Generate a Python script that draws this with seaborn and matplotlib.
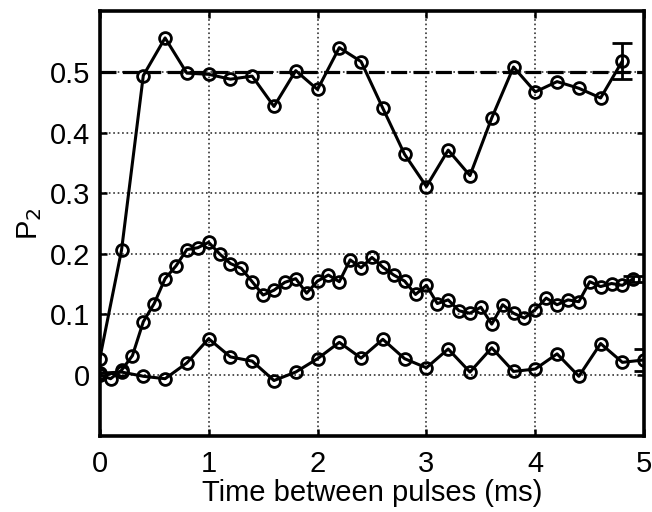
import numpy as np
import pandas as pd
import matplotlib
matplotlib.use("Agg")
import matplotlib.pyplot as plt
import seaborn as sns

# ---------------------------------------------------------
# Data
# ---------------------------------------------------------
t_top = [0.0, 0.2, 0.4, 0.6, 0.8, 1.0, 1.2, 1.4, 1.6, 1.8, 2.0, 2.2, 2.4,
         2.6, 2.8, 3.0, 3.2, 3.4, 3.6, 3.8, 4.0, 4.2, 4.4, 4.6, 4.8]
p_top = [0.027, 0.206, 0.494, 0.556, 0.498, 0.496, 0.488, 0.493, 0.443,
         0.502, 0.471, 0.540, 0.517, 0.440, 0.364, 0.311, 0.371, 0.329,
         0.424, 0.508, 0.467, 0.484, 0.473, 0.457, 0.518]

t_mid = [0.0, 0.1, 0.2, 0.3, 0.4, 0.5, 0.6, 0.7, 0.8, 0.9,
         1.0, 1.1, 1.2, 1.3, 1.4, 1.5, 1.6, 1.7, 1.8, 1.9,
         2.0, 2.1, 2.2, 2.3, 2.4, 2.5, 2.6, 2.7, 2.8, 2.9,
         3.0, 3.1, 3.2, 3.3, 3.4, 3.5, 3.6, 3.7, 3.8, 3.9,
         4.0, 4.1, 4.2, 4.3, 4.4, 4.5, 4.6, 4.7, 4.8, 4.9]
p_mid = [0.000, -0.006, 0.008, 0.032, 0.088, 0.118, 0.159, 0.180, 0.207, 0.210,
         0.219, 0.200, 0.184, 0.176, 0.154, 0.132, 0.140, 0.153, 0.159, 0.135,
         0.155, 0.165, 0.154, 0.190, 0.177, 0.194, 0.178, 0.165, 0.155, 0.133,
         0.148, 0.118, 0.124, 0.106, 0.102, 0.112, 0.084, 0.116, 0.102, 0.094,
         0.108, 0.127, 0.116, 0.124, 0.121, 0.154, 0.146, 0.151, 0.148, 0.159]

t_low = [0.0, 0.2, 0.4, 0.6, 0.8, 1.0, 1.2, 1.4, 1.6, 1.8, 2.0, 2.2, 2.4,
         2.6, 2.8, 3.0, 3.2, 3.4, 3.6, 3.8, 4.0, 4.2, 4.4, 4.6, 4.8, 5.0]
p_low = [0.003, 0.005, -0.002, -0.006, 0.020, 0.060, 0.030, 0.023, -0.009,
         0.005, 0.027, 0.054, 0.028, 0.059, 0.027, 0.012, 0.043, 0.005,
         0.045, 0.006, 0.010, 0.035, -0.002, 0.052, 0.021, 0.025]

# error bars shown on the last point of each curve
err_t = [4.8, 4.9, 5.0]
err_p = [0.518, 0.159, 0.025]
err_size = [0.029, 0.005, 0.018]

reference_level = 0.5

# ---------------------------------------------------------
# Plot
# ---------------------------------------------------------
sns.set_style("ticks")
plt.rcParams["font.family"] = ["Liberation Sans", "DejaVu Sans"]
plt.rcParams["text.color"] = "k"
plt.rcParams["axes.labelcolor"] = "k"
plt.rcParams["xtick.color"] = "k"
plt.rcParams["ytick.color"] = "k"

fig = plt.figure(figsize=(6.52, 5.12), dpi=100)
ax = fig.add_axes([0.153, 0.149, 0.835, 0.829])

ax.axhline(reference_level, color="k", ls=(0, (5, 2)), lw=2.3, zorder=2)

style = dict(color="k", marker="o", markersize=8.5, markerfacecolor="none",
             markeredgecolor="k", markeredgewidth=2.0, linewidth=2.2)
for t, p in [(t_top, p_top), (t_mid, p_mid), (t_low, p_low)]:
    df = pd.DataFrame({"t": t, "p": p})
    sns.lineplot(data=df, x="t", y="p", ax=ax, sort=False, zorder=3, **style)

ax.errorbar(err_t, err_p, yerr=err_size, fmt="none", ecolor="k",
            elinewidth=2.0, capsize=7, capthick=2.0, zorder=4)

ax.set_xlim(0, 5)
ax.set_ylim(-0.1, 0.6)
ax.set_xticks([0, 1, 2, 3, 4, 5])
ax.set_yticks([0, 0.1, 0.2, 0.3, 0.4, 0.5])
ax.set_yticklabels(["0", "0.1", "0.2", "0.3", "0.4", "0.5"])
ax.grid(True, ls=":", color="k", lw=1.2, alpha=0.8)
ax.set_axisbelow(True)

ax.tick_params(direction="in", length=5, width=1.8, top=True, right=True,
               labelsize=21, colors="k")
ax.tick_params(axis="x", pad=10)
ax.tick_params(axis="y", pad=7)
for side in ["top", "bottom", "left", "right"]:
    ax.spines[side].set_visible(True)
    ax.spines[side].set_linewidth(2.6)
    ax.spines[side].set_color("k")

ax.set_xlabel("Time between pulses (ms)", fontsize=21, labelpad=1, color="k")
ax.set_ylabel(r"P$_2$", fontsize=21, labelpad=4, color="k")

fig.savefig("out.png", dpi=100)
